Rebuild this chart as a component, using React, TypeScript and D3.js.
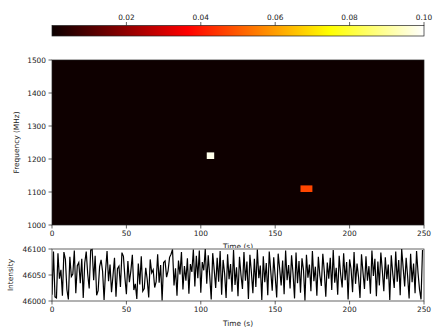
import React from "react";
import * as d3 from "d3";

const colorTicks = [0.02, 0.04, 0.06, 0.08, 0.1];
const freqTicks = [1000, 1100, 1200, 1300, 1400, 1500];
const timeTicks = [0, 50, 100, 150, 200, 250];
const intensityTicks = [46000, 46050, 46100];

const backgroundValue = 0.0005;
const burstStart = [104, 167];
const burstEnd = [109, 175];
const burstLow = [1200, 1100];
const burstHigh = [1220, 1120];
const burstValue = [0.098, 0.047];

const intensity = [
  46012, 46095, 46008, 46006, 46092, 46043, 46060, 46010, 46094, 46080, 46022, 46003, 46085, 46047, 46052, 46097, 46015, 46068, 46074, 46034, 46081, 46006, 46073, 46095, 46052,
  46024, 46098, 46099, 46040, 46087, 46011, 46020, 46066, 46079, 46057, 46002, 46058, 46096, 46038, 46070, 46017, 46049, 46083, 46008, 46062, 46067, 46027, 46093, 46086, 46045,
  46013, 46077, 46036, 46058, 46089, 46021, 46033, 46004, 46072, 46032, 46086, 46019, 46024, 46064, 46041, 46007, 46080, 46054, 46060, 46026, 46037, 46090, 46035, 46069, 46001,
  46074, 46077, 46046, 46058, 46084, 46090, 46099, 46030, 46063, 46010, 46078, 46051, 46094, 46022, 46067, 46039, 46082, 46014, 46071, 46056, 46099, 46028, 46087, 46044, 46097,
  46016, 46075, 46059, 46100, 46033, 46088, 46048, 46003, 46092, 46060, 46025, 46083, 46037, 46096, 46012, 46079, 46053, 46006, 46090, 46042, 46071, 46018, 46098, 46031, 46065,
  46009, 46085, 46050, 46023, 46094, 46039, 46076, 46004, 46089, 46055, 46015, 46081, 46027, 46099, 46044, 46068, 46002, 46086, 46036, 46073, 46011, 46095, 46058, 46020, 46084,
  46047, 46007, 46091, 46062, 46030, 46078, 46013, 46097, 46040, 46069, 46024, 46088, 46052, 46005, 46093, 46034, 46077, 46016, 46082, 46060, 46001, 46089, 46045, 46070, 46019,
  46096, 46038, 46066, 46010, 46085, 46049, 46029, 46091, 46057, 46008, 46074, 46043, 46083, 46021, 46098, 46035, 46064, 46012, 46087, 46051, 46026, 46092, 46040, 46075, 46003,
  46080, 46061, 46017, 46094, 46033, 46072, 46046, 46006, 46090, 46055, 46023, 46086, 46039, 46067, 46014, 46097, 46048, 46081, 46009, 46076, 46030, 46093, 46058, 46019, 46084,
  46042, 46070, 46002, 46088, 46053, 46025, 46095, 46037, 46079, 46011, 46100, 46064, 46028, 46083, 46047, 46005, 46091, 46036, 46072, 46015, 46096, 46054, 46022, 46003, 46098,
];

function hot(t: number): string {
  const c = (v: number) => Math.max(0, Math.min(1, v));
  const r = c(0.0416 + (t / 0.365) * (1 - 0.0416));
  const g = c((t - 0.365) / (0.746 - 0.365));
  const b = c((t - 0.746) / (1 - 0.746));
  return d3.rgb(r * 255, g * 255, b * 255).formatHex();
}

const FONT = "DejaVu Sans, sans-serif";
const FS = 7.4;

export default function App() {
  const L = 52, R = 424;
  const mainTop = 60, mainBot = 225;
  const botTop = 249, botBot = 301;
  const cbTop = 25.5, cbBot = 36;

  const x = d3.scaleLinear().domain([0, 250]).range([L, R]);
  const yF = d3.scaleLinear().domain([1000, 1500]).range([mainBot, mainTop]);
  const yI = d3.scaleLinear().domain([46000, 46100]).range([botBot, botTop]);
  const cb = d3.scaleLinear().domain([0, 0.1]).range([L, R]);
  const norm = d3.scaleLinear().domain([0, 0.1]).range([0, 1]);

  const line = d3
    .line<number>()
    .x((_, i) => x(i))
    .y((d) => yI(d));

  const stops = [0, 0.365, 0.746, 1];

  return (
    <svg
      width={433}
      height={333}
      style={{ position: "absolute", left: 0, top: 0, background: "#fff" }}
      fontFamily={FONT}
      fontSize={FS}
    >
      <defs>
        <linearGradient id="hotgrad" x1="0" x2="1" y1="0" y2="0">
          {stops.map((s) => (
            <stop key={s} offset={s} stopColor={hot(s)} />
          ))}
        </linearGradient>
      </defs>
      <rect width={433} height={333} fill="#fff" />

      {/* colorbar */}
      <rect x={cb(0)} y={cbTop} width={cb(0.1) - cb(0)} height={cbBot - cbTop} fill="url(#hotgrad)" />
      <rect x={cb(0)} y={cbTop} width={cb(0.1) - cb(0)} height={cbBot - cbTop} fill="none" stroke="#222" strokeWidth={0.7} />
      {colorTicks.map((t) => (
        <g key={t}>
          <line x1={cb(t)} x2={cb(t)} y1={cbTop} y2={cbTop - 3.5} stroke="#222" strokeWidth={0.7} />
          <text x={cb(t)} y={cbTop - 6} textAnchor="middle" fill="#222">
            {t.toFixed(2)}
          </text>
        </g>
      ))}

      {/* main heatmap */}
      <rect x={L} y={mainTop} width={R - L} height={mainBot - mainTop} fill={hot(norm(backgroundValue))} />
      {burstStart.map((s, i) => (
        <rect
          key={i}
          x={x(s)}
          y={yF(burstHigh[i])}
          width={x(burstEnd[i]) - x(s)}
          height={yF(burstLow[i]) - yF(burstHigh[i])}
          fill={hot(norm(burstValue[i]))}
        />
      ))}
      <rect x={L} y={mainTop} width={R - L} height={mainBot - mainTop} fill="none" stroke="#222" strokeWidth={0.7} />
      {freqTicks.map((t) => (
        <g key={t}>
          <line x1={L} x2={L - 3.5} y1={yF(t)} y2={yF(t)} stroke="#222" strokeWidth={0.7} />
          <text x={L - 6} y={yF(t)} dy="0.35em" textAnchor="end" fill="#222">
            {t}
          </text>
        </g>
      ))}
      {timeTicks.map((t) => (
        <g key={t}>
          <line x1={x(t)} x2={x(t)} y1={mainBot} y2={mainBot + 3.5} stroke="#222" strokeWidth={0.7} />
          <text x={x(t)} y={mainBot + 11} textAnchor="middle" fill="#222">
            {t}
          </text>
        </g>
      ))}
      <text x={(L + R) / 2} y={mainBot + 23.5} textAnchor="middle" fill="#222">
        Time (s)
      </text>
      <text
        transform={`translate(18.5,${(mainTop + mainBot) / 2}) rotate(-90)`}
        textAnchor="middle"
        fill="#222"
      >
        Frequency (MHz)
      </text>

      {/* bottom time series */}
      <rect x={L} y={botTop - 1} width={R - L} height={botBot - botTop + 1} fill="#fff" />
      <clipPath id="botclip">
        <rect x={L} y={botTop - 1} width={R - L} height={botBot - botTop + 2} />
      </clipPath>
      <path d={line(intensity) || ""} fill="none" stroke="#000" strokeWidth={1.2} clipPath="url(#botclip)" />
      <rect x={L} y={botTop} width={R - L} height={botBot - botTop} fill="none" stroke="#222" strokeWidth={0.7} />
      {intensityTicks.map((t) => (
        <g key={t}>
          <line x1={L} x2={L - 3.5} y1={yI(t)} y2={yI(t)} stroke="#222" strokeWidth={0.7} />
          <text x={L - 6} y={yI(t)} dy="0.35em" textAnchor="end" fill="#222">
            {t}
          </text>
        </g>
      ))}
      {timeTicks.map((t) => (
        <g key={t}>
          <line x1={x(t)} x2={x(t)} y1={botBot} y2={botBot + 3.5} stroke="#222" strokeWidth={0.7} />
          <text x={x(t)} y={botBot + 11} textAnchor="middle" fill="#222">
            {t}
          </text>
        </g>
      ))}
      <text x={(L + R) / 2} y={botBot + 25} textAnchor="middle" fill="#222">
        Time (s)
      </text>
      <text
        transform={`translate(13,${(botTop + botBot) / 2}) rotate(-90)`}
        textAnchor="middle"
        fill="#222"
      >
        Intensity
      </text>
    </svg>
  );
}
